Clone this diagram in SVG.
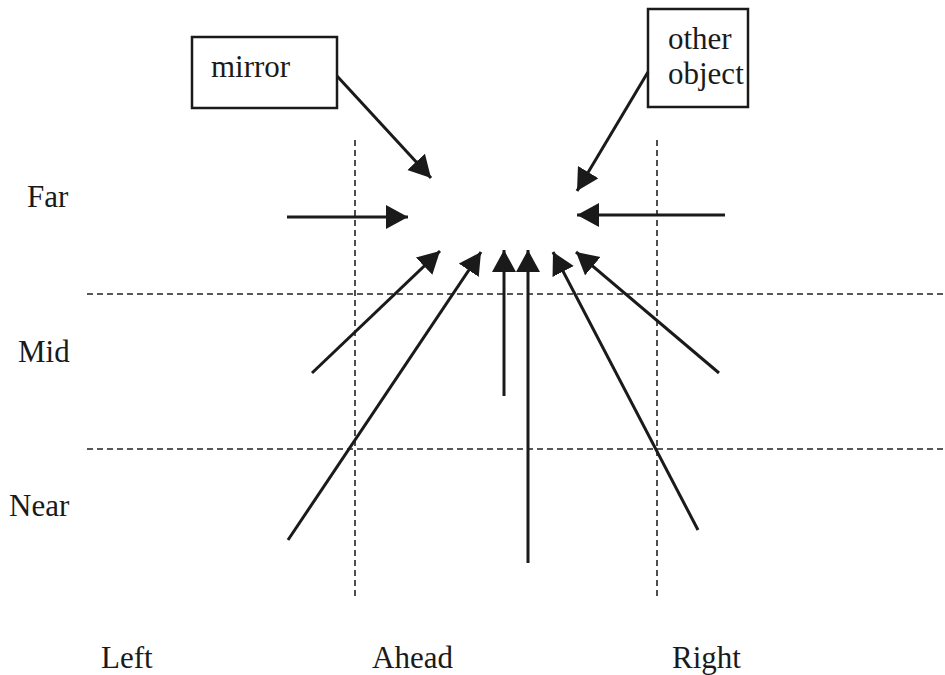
<svg xmlns="http://www.w3.org/2000/svg" width="945" height="675" viewBox="0 0 945 675">
<style>
.t{font-family:"Liberation Serif","Times New Roman",serif;font-size:31px;fill:#1a1a1a}
.grid{stroke:#222;stroke-width:1.6;stroke-dasharray:6,4;fill:none}
.arr{stroke:#1a1a1a;stroke-width:3;fill:none;marker-end:url(#ah)}
.box{fill:#fff;stroke:#1a1a1a;stroke-width:2.5}
</style>
<defs>
<marker id="ah" markerUnits="userSpaceOnUse" markerWidth="24" markerHeight="26" refX="22" refY="12" orient="auto">
<path d="M0,0 L22,12 L0,24 z" fill="#1a1a1a"/>
</marker>
</defs>
<rect width="945" height="675" fill="#fff"/>
<g id="gridlines">
<line class="grid" x1="355" y1="140" x2="355" y2="598"/>
<line class="grid" x1="657" y1="140" x2="657" y2="598"/>
<line class="grid" x1="87" y1="294" x2="945" y2="294"/>
<line class="grid" x1="87" y1="449" x2="945" y2="449"/>
</g>
<g id="mirror">
<rect class="box" x="192" y="37" width="145" height="71"/>
<text class="t" x="211" y="77">mirror</text>
</g>
<g id="other-object">
<rect class="box" x="648" y="9" width="100" height="98"/>
<text class="t" x="668" y="49">other</text>
<text class="t" x="668" y="84">object</text>
</g>
<g id="labels">
<text class="t" x="27" y="207">Far</text>
<text class="t" x="18" y="362">Mid</text>
<text class="t" x="9" y="516">Near</text>
<text class="t" x="101" y="668">Left</text>
<text class="t" x="372" y="668">Ahead</text>
<text class="t" x="672" y="668">Right</text>
</g>
<g id="connectors">
<line class="arr" x1="337" y1="76" x2="431" y2="178"/>
<line class="arr" x1="648" y1="72" x2="577" y2="191"/>
<line class="arr" x1="287" y1="217" x2="408" y2="217"/>
<line class="arr" x1="725" y1="215" x2="577" y2="215"/>
<line class="arr" x1="312" y1="373" x2="440" y2="251"/>
<line class="arr" x1="288" y1="540" x2="481" y2="252"/>
<line class="arr" x1="504" y1="396" x2="504" y2="250"/>
<line class="arr" x1="528" y1="563" x2="528" y2="250"/>
<line class="arr" x1="698" y1="530" x2="553" y2="252"/>
<line class="arr" x1="719" y1="373" x2="576" y2="252"/>
</g>
</svg>
